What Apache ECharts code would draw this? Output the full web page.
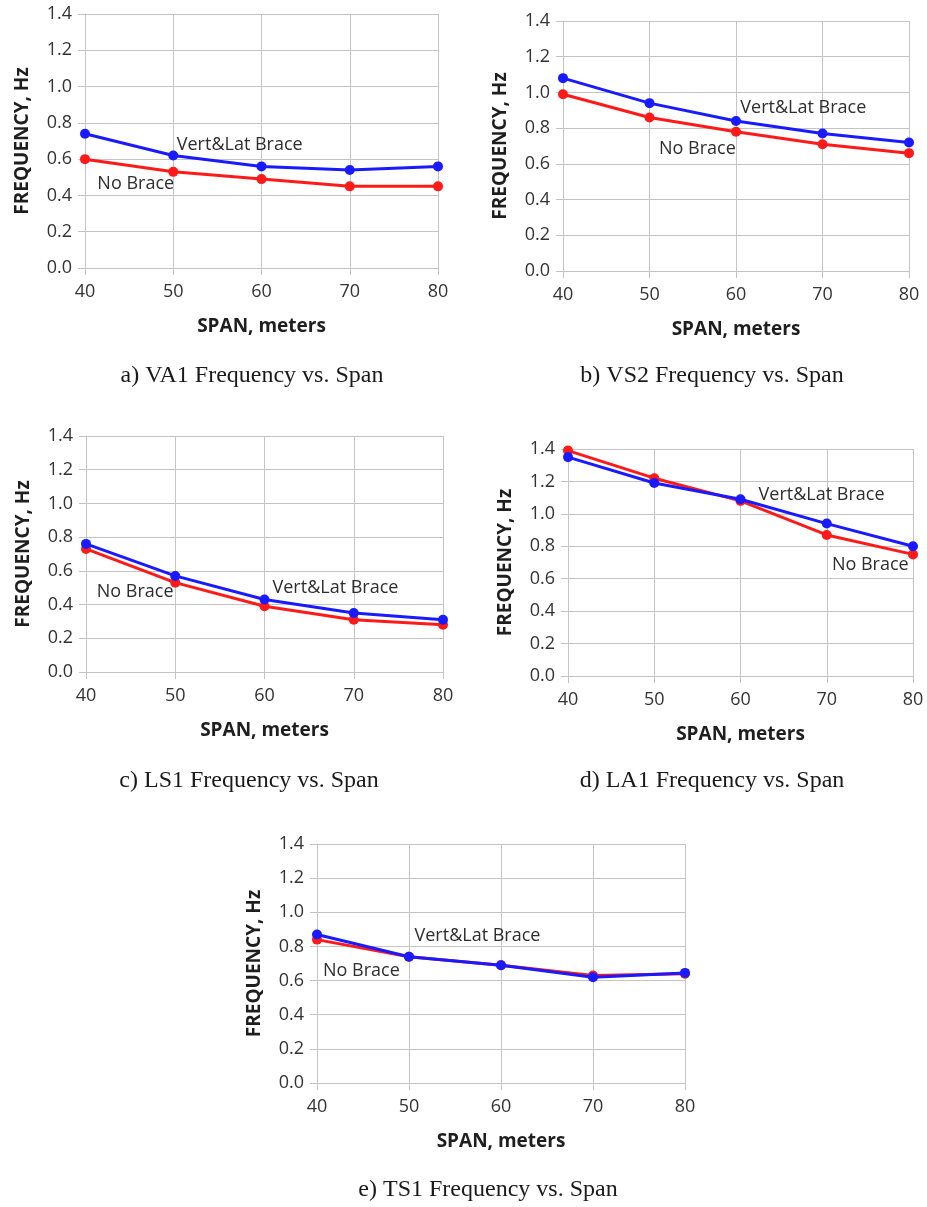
<!DOCTYPE html>
<html>
<head>
<meta charset="utf-8">
<script src="https://cdn.jsdelivr.net/npm/echarts@6/dist/echarts.min.js"></script>
<style>
html,body{margin:0;padding:0;background:#fff;}
#chart{width:927px;height:1207px;}
</style>
</head>
<body>
<div id="chart"></div>
<script>
// ---- data ----
const spans = [40, 50, 60, 70, 80];
const xTicks = [40, 50, 60, 70, 80];
const yTicks = [0.0, 0.2, 0.4, 0.6, 0.8, 1.0, 1.2, 1.4];

const va1Brace   = [0.74, 0.62, 0.56, 0.54, 0.56];
const va1NoBrace = [0.60, 0.53, 0.49, 0.45, 0.45];
const vs2Brace   = [1.08, 0.94, 0.84, 0.77, 0.72];
const vs2NoBrace = [0.99, 0.86, 0.78, 0.71, 0.66];
const ls1Brace   = [0.76, 0.57, 0.43, 0.35, 0.31];
const ls1NoBrace = [0.73, 0.53, 0.39, 0.31, 0.28];
const la1Brace   = [1.35, 1.19, 1.09, 0.94, 0.80];
const la1NoBrace = [1.39, 1.22, 1.08, 0.87, 0.75];
const ts1Brace   = [0.87, 0.74, 0.69, 0.62, 0.645];
const ts1NoBrace = [0.84, 0.74, 0.69, 0.63, 0.64];

const captions = [
  'a) VA1 Frequency vs. Span',
  'b) VS2 Frequency vs. Span',
  'c) LS1 Frequency vs. Span',
  'd) LA1 Frequency vs. Span',
  'e) TS1 Frequency vs. Span'
];
const braceLabel = 'Vert&Lat Brace';
const noBraceLabel = 'No Brace';
const xTitle = 'SPAN, meters';
const yTitle = 'FREQUENCY, Hz';

// annotation anchors (data units: [span, frequency])
const braceLabelAt   = [[50.4, 0.68], [60.5, 0.915], [60.9, 0.50], [62.1, 1.12], [50.6, 0.862]];
const noBraceLabelAt = [[41.4, 0.465], [51.1, 0.685], [41.2, 0.475], [70.6, 0.685], [40.65, 0.659]];

// ---- layout ----
const grids = [
  {left: 85,  top: 14,  width: 353, height: 254},
  {left: 563, top: 21,  width: 346, height: 250},
  {left: 86,  top: 436, width: 357, height: 236},
  {left: 568, top: 449, width: 345, height: 227},
  {left: 317, top: 844, width: 368, height: 239}
];
const captionPos = [[252, 376], [712, 376], [249, 781], [712, 781], [488, 1190]];

const braceSets = [va1Brace, vs2Brace, ls1Brace, la1Brace, ts1Brace];
const noBraceSets = [va1NoBrace, vs2NoBrace, ls1NoBrace, la1NoBrace, ts1NoBrace];

const FONT = '"Open Sans", "Noto Sans", sans-serif';
const gridColor = '#c4c4c4';
const RED = '#ff1a1a';
const BLUE = '#1a1aff';

const xAxes = [], yAxes = [], series = [], graphics = [];
grids.forEach((g, i) => {
  xAxes.push({
    gridIndex: i, type: 'value', min: xTicks[0], max: xTicks[xTicks.length - 1], interval: 10,
    name: xTitle, nameLocation: 'middle', nameGap: 49,
    nameTextStyle: {fontFamily: FONT, fontSize: 19, fontWeight: 'bold', color: '#1e1e1e'},
    axisLine: {show: true, lineStyle: {color: gridColor, width: 1}},
    axisTick: {show: true, length: 7, lineStyle: {color: gridColor}},
    axisLabel: {fontFamily: FONT, fontSize: 18, color: '#333', margin: 15},
    splitLine: {show: true, lineStyle: {color: gridColor, width: 1}}
  });
  yAxes.push({
    gridIndex: i, type: 'value', min: yTicks[0], max: yTicks[yTicks.length - 1], interval: 0.2,
    name: yTitle, nameLocation: 'middle', nameGap: 53,
    nameTextStyle: {fontFamily: FONT, fontSize: 19, fontWeight: 'bold', color: '#1e1e1e'},
    axisLine: {show: true, lineStyle: {color: gridColor, width: 1}},
    axisTick: {show: true, length: 7, lineStyle: {color: gridColor}},
    axisLabel: {fontFamily: FONT, fontSize: 18, color: '#333', margin: 13,
      formatter: v => v.toFixed(1)},
    splitLine: {show: true, lineStyle: {color: gridColor, width: 1}}
  });
  const lbl = (txt, at) => ({
    symbol: 'circle', symbolSize: 0, silent: true,
    label: {show: true, position: 'right', distance: 0, formatter: txt,
      fontFamily: FONT, fontSize: 18, color: '#2e2e2e'},
    data: [{coord: at}]
  });
  series.push({
    type: 'line', xAxisIndex: i, yAxisIndex: i, name: noBraceLabel,
    data: spans.map((s, k) => [s, noBraceSets[i][k]]),
    symbol: 'circle', symbolSize: 10, showAllSymbol: true,
    lineStyle: {color: RED, width: 3}, itemStyle: {color: RED},
    z: 2, animation: false,
    markPoint: lbl(noBraceLabel, noBraceLabelAt[i])
  });
  series.push({
    type: 'line', xAxisIndex: i, yAxisIndex: i, name: braceLabel,
    data: spans.map((s, k) => [s, braceSets[i][k]]),
    symbol: 'circle', symbolSize: 10, showAllSymbol: true,
    lineStyle: {color: BLUE, width: 3}, itemStyle: {color: BLUE},
    z: 3, animation: false,
    markPoint: lbl(braceLabel, braceLabelAt[i])
  });
  graphics.push({
    type: 'text', x: captionPos[i][0], y: captionPos[i][1],
    style: {text: captions[i], fontFamily: '"Liberation Serif", "Times New Roman", serif',
      fontSize: 24, fill: '#1a1a1a', textAlign: 'center', textVerticalAlign: 'middle'}
  });
});

const chart = echarts.init(document.getElementById('chart'), null, {renderer: 'canvas'});
chart.setOption({
  animation: false,
  backgroundColor: '#fff',
  grid: grids.map(g => Object.assign({containLabel: false}, g)),
  xAxis: xAxes,
  yAxis: yAxes,
  series: series,
  graphic: graphics
});
</script>
</body>
</html>
